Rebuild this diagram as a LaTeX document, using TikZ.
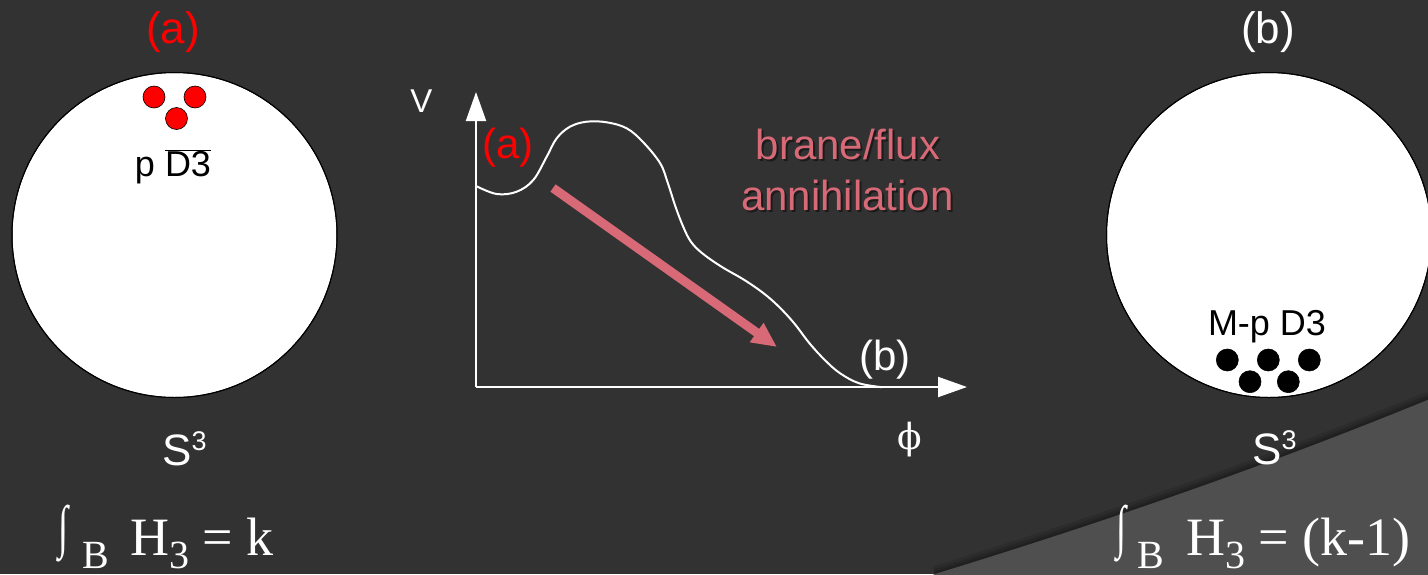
\documentclass[tikz,border=0pt]{standalone}
\usepackage{fontspec}
\setmainfont{Liberation Sans}
\newfontfamily\tnr{Liberation Serif}
\newfontfamily\dvs{DejaVu Serif}
\usetikzlibrary{arrows.meta}
\definecolor{bg}{HTML}{323232}
\definecolor{bglight}{HTML}{4F4F4F}
\definecolor{pinkarrow}{HTML}{D86A77}
\definecolor{redlbl}{HTML}{FF0000}
\tikzset{
  sphere/.style={fill=white, draw=black, line width=1pt},
  reddot/.style={circle, fill=redlbl, draw=black, line width=0.6pt, minimum size=22pt, inner sep=0},
  blackdot/.style={circle, fill=black, draw=black, line width=0.6pt, minimum size=22pt, inner sep=0},
  biglbl/.style={inner sep=0, anchor=base, font=\fontsize{44}{44}\selectfont},
  dlbl/.style={inner sep=0, anchor=base, text=black, font=\fontsize{36}{36}\selectfont},
  graphlbl/.style={inner sep=0, anchor=base, font=\fontsize{42}{42}\selectfont},
  axisline/.style={draw=white, line width=2pt, -{Triangle[length=29pt,width=20pt]}},
  curveline/.style={draw=white, line width=2pt},
  pinktext/.style={inner sep=0, anchor=base, text=pinkarrow, font=\fontsize{42}{42}\selectfont},
  shadowtext/.style={inner sep=0, anchor=base, text=black, opacity=0.45, font=\fontsize{42}{42}\selectfont},
  sthree/.style={inner sep=0, anchor=base west, text=white, font=\fontsize{44}{44}\selectfont},
  intsign/.style={inner sep=0, anchor=north west, text=white},
  subB/.style={inner sep=0, anchor=base west, text=white, font=\tnr\fontsize{40}{40}\selectfont},
  formula/.style={inner sep=0, anchor=base west, text=white, font=\tnr\fontsize{54}{54}\selectfont},
}
\begin{document}
\begin{tikzpicture}[x=1pt, y=-1pt]
\useasboundingbox (0,0) rectangle (1428,574);
\fill[bg] (0,0) rectangle (1428,574);
% soft shadow above the lighter region
\foreach \w/\o in {16/0.10, 10/0.12, 5/0.15} {
  \draw[black, opacity=\o, line width=\w pt] (935,574) .. controls (1150,508) and (1300,452) .. (1430,399);
}
\fill[bglight] (935,574) .. controls (1150,508) and (1300,452) .. (1430,399) -- (1430,576) -- (930,576) -- cycle;

% ---------- left sphere (a) ----------
\node[biglbl, text=redlbl] (labA) at (173,43.5) {(a)};
\fill[sphere] (174.5,235) circle[radius=162.5pt];
\draw[black, line width=1pt] (174.5,235) circle[radius=162.5pt];
\node[reddot] (ra1) at (154,97) {};
\node[reddot] (ra2) at (195,97) {};
\node[reddot] (ra3) at (176.5,118.5) {};
\node[dlbl] (pD) at (173,176.5) {p $\overline{\hbox{D3}}$};
\node[sthree] (SA) at (162,465) {S\raisebox{15pt}{\fontsize{27}{27}\selectfont 3}};
\node[intsign] (intA) at (58,505) {\resizebox*{10pt}{57pt}{\tnr ∫}};
\node[subB] (BA) at (82,568) {B};
\node[formula] (HA) at (130,555) {H\raisebox{-13pt}{\fontsize{40}{40}\selectfont 3} = k};

% ---------- right sphere (b) ----------
\node[biglbl, text=white] (labB) at (1268,43.5) {(b)};
\fill[sphere] (1269,235) circle[radius=162.5pt];
\draw[black, line width=1pt] (1269,235) circle[radius=162.5pt];
\node[dlbl] (MpD) at (1267,335) {M-p D3};
\node[blackdot] (b1) at (1227.3,360) {};
\node[blackdot] (b2) at (1268.3,360) {};
\node[blackdot] (b3) at (1309.3,360) {};
\node[blackdot] (b4) at (1250,381.7) {};
\node[blackdot] (b5) at (1288.3,381.7) {};
\node[sthree] (SB) at (1252,464) {S\raisebox{15pt}{\fontsize{27}{27}\selectfont 3}};
\node[intsign] (intB) at (1116,505) {\resizebox*{10pt}{57pt}{\tnr ∫}};
\node[subB] (BB) at (1137,568) {B};
\node[formula] (HB) at (1186,555) {H\raisebox{-13pt}{\fontsize{40}{40}\selectfont 3} = (k-1)};

% ---------- potential graph ----------
\coordinate (O) at (476,387);
\coordinate (Vtip) at (476,92);
\coordinate (Htip) at (967,387);
\draw[axisline] (O) -- (Vtip);
\draw[axisline] (O) -- (Htip);
\node[graphlbl, text=white, font=\fontsize{33}{33}\selectfont] (Vlbl) at (421.5,112) {V};
\node[inner sep=0, text=white, font=\dvs\fontsize{36}{36}\selectfont] (philbl) at (910,440) {ϕ};
\draw[curveline] plot[smooth, tension=0.6] coordinates {
  (476,186) (496.7,194) (516.7,191.7) (533.3,180) (546.7,156.7) (556.7,138.3)
  (570,126.7) (586.7,121.7) (606.7,122.3) (626.7,128.3) (643,142)
  (660.2,163.3) (667.9,183.3) (675.5,206.7) (683.2,226.7)
  (690.9,241.7) (702.3,253.3) (721.5,266.7) (744.4,280) (763.6,293.3)
  (778.9,306.7) (794.2,323.3) (809.5,343.3) (824.8,360) (840.1,373.3)
  (859.2,383.3) (882.2,387.2)};
\node[graphlbl, text=redlbl] (ga) at (508,158) {(a)};
\node[graphlbl, text=white] (gb) at (885,370) {(b)};
\coordinate (rs) at (553,188);
\coordinate (re) at (777,347);
\draw[pinkarrow, line width=9pt, -{Triangle[length=25pt,width=22pt]}] (rs) -- (re);
\node[shadowtext] at (850,161.5) {brane/flux};
\node[shadowtext] at (849.5,212) {annihilation};
\node[pinktext] (t1) at (848,159.5) {brane/flux};
\node[pinktext] (t2) at (847.5,210) {annihilation};
\end{tikzpicture}
\end{document}
